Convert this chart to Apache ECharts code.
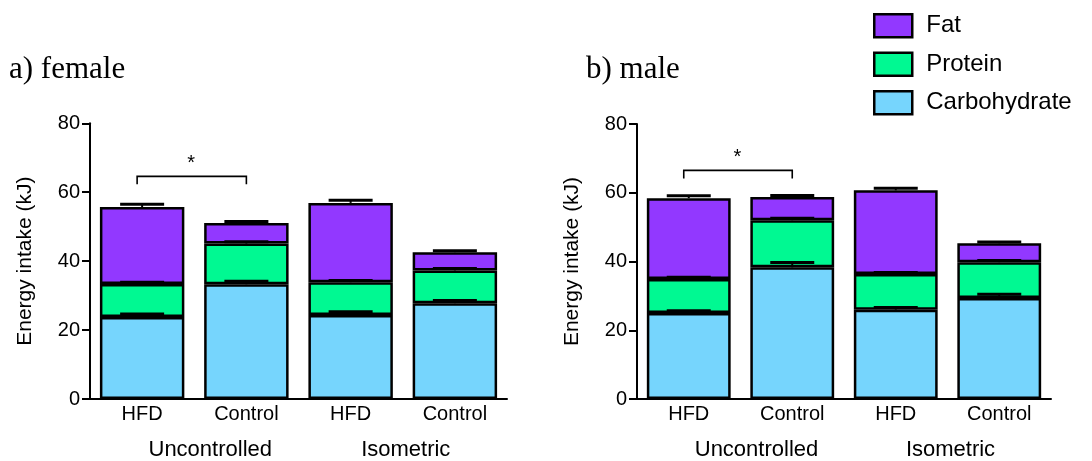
<!DOCTYPE html>
<html>
<head>
<meta charset="utf-8">
<script src="https://cdn.jsdelivr.net/npm/echarts@6/dist/echarts.min.js"></script>
<style>html,body{margin:0;padding:0;background:#fff}#c{width:1092px;height:461px}</style>
</head>
<body>
<div id="c"></div>
<script>
// ---- data ----
const categories = ['HFD', 'Control', 'HFD', 'Control'];
const groups = ['Uncontrolled', 'Isometric'];
const seriesNames = ['Carbohydrate', 'Protein', 'Fat'];
const yTicks = [0, 20, 40, 60, 80];

const femaleCarb = [23.8, 33.3, 24.4, 27.8];
const femaleProtein = [9.6, 11.8, 9.5, 9.5];
const femaleFat = [22.3, 6.0, 23.0, 5.3];
const femaleCarbErr = [0.9, 0.9, 0.9, 0.8];
const femaleProteinErr = [0.5, 0.5, 0.5, 0.6];
const femaleFatErr = [0.8, 0.4, 0.8, 0.4];

const maleCarb = [25.0, 38.3, 26.0, 29.4];
const maleProtein = [9.9, 13.7, 10.4, 10.4];
const maleFat = [23.5, 6.8, 24.3, 5.5];
const maleCarbErr = [0.7, 1.4, 0.6, 1.1];
const maleProteinErr = [0.5, 0.6, 0.4, 0.5];
const maleFatErr = [0.7, 0.4, 0.6, 0.4];

// significance brackets: [fromCategory, toCategory, yValue]
const femaleBracket = [0, 1, 64.6];
const maleBracket = [0, 1, 66.5];

const colors = {Carbohydrate: '#76D5FD', Protein: '#00F992', Fat: '#9238FF'};
const FONT = 'Liberation Sans, Arial, sans-serif';

const chart = echarts.init(document.getElementById('c'));

function errRender(params, api) {
  const x = api.value(0), top = api.value(1), e = api.value(2);
  const p0 = api.coord([x, top]);
  const p1 = api.coord([x, top + e]);
  return {type: 'group', children: [
    {type: 'line', shape: {x1: p0[0], y1: p0[1], x2: p1[0], y2: p1[1]}, style: {stroke: '#000', lineWidth: 2}},
    {type: 'line', shape: {x1: p1[0] - 22, y1: p1[1], x2: p1[0] + 22, y2: p1[1]}, style: {stroke: '#000', lineWidth: 3}}
  ]};
}
function bracketRender(params, api) {
  const a = api.coord([api.value(0), api.value(2)]);
  const b = api.coord([api.value(1), api.value(2)]);
  const drop = 8;
  return {type: 'group', children: [
    {type: 'polyline', shape: {points: [[a[0] - 5, a[1] + drop], [a[0] - 5, a[1]], [b[0], b[1]], [b[0], b[1] + drop]]},
      style: {stroke: '#000', lineWidth: 1.6, fill: null}},
    {type: 'text', x: (a[0] + b[0]) / 2 - 3, y: a[1] - 13,
      style: {text: '*', fontSize: 20, fontFamily: FONT, fill: '#000', align: 'center', verticalAlign: 'middle'}}
  ]};
}

function buildPanel(carb, protein, fat, cErr, pErr, fErr, bracket, xIdx, yIdx) {
  const vals = [carb, protein, fat];
  const errs = [cErr, pErr, fErr];
  const out = [];
  vals.forEach((v, k) => {
    out.push({
      name: seriesNames[k], type: 'bar', stack: 's' + yIdx, data: v,
      xAxisIndex: xIdx, yAxisIndex: yIdx, barCategoryGap: '19%',
      itemStyle: {color: colors[seriesNames[k]], borderColor: '#000', borderWidth: 2.5},
      silent: true, animation: false
    });
  });
  vals.forEach((v, k) => {
    const data = v.map((_, i) => {
      let cum = 0;
      for (let j = 0; j <= k; j++) cum += vals[j][i];
      return [i, cum, errs[k][i]];
    });
    out.push({
      type: 'custom', xAxisIndex: xIdx, yAxisIndex: yIdx, renderItem: errRender,
      data: data, encode: {x: 0, y: 1}, z: 5, silent: true, animation: false
    });
  });
  out.push({
    type: 'custom', xAxisIndex: xIdx, yAxisIndex: yIdx, renderItem: bracketRender,
    data: [bracket], encode: {x: [0, 1], y: 2}, z: 5, silent: true, animation: false
  });
  return out;
}

const groupData = groups.map((g, i) => ({value: g, textStyle: {padding: i === 0 ? [0, 0, 0, 32] : [0, 0, 0, 6]}}));

function xAxes(gridIndex) {
  return [
    {type: 'category', gridIndex: gridIndex, data: categories, position: 'bottom',
      axisLine: {lineStyle: {color: '#000', width: 2}}, axisTick: {show: false},
      axisLabel: {color: '#000', fontSize: 20, fontFamily: FONT, margin: 5}},
    {type: 'category', gridIndex: gridIndex, data: groupData, position: 'bottom', offset: 0,
      axisLine: {show: false}, axisTick: {show: false},
      axisLabel: {color: '#000', fontSize: 22, fontFamily: FONT, margin: 40}}
  ];
}
function yAxis(gridIndex) {
  return {type: 'value', gridIndex: gridIndex, min: yTicks[0], max: yTicks[yTicks.length - 1], interval: 20,
    name: 'Energy intake (kJ)', nameLocation: 'middle', nameGap: 54,
    nameTextStyle: {color: '#000', fontSize: 21, fontFamily: FONT},
    axisLine: {show: true, lineStyle: {color: '#000', width: 2}},
    axisTick: {show: true, length: 8, lineStyle: {color: '#000', width: 2}},
    axisLabel: {color: '#000', fontSize: 20, fontFamily: FONT, margin: 10},
    splitLine: {show: false}};
}

const option = {
  animation: false,
  title: [
    {text: 'a) female', left: 4, top: 49, textStyle: {fontFamily: 'Liberation Serif, Times New Roman, serif', fontWeight: 'normal', fontSize: 31, color: '#000'}},
    {text: 'b) male', left: 581, top: 49, textStyle: {fontFamily: 'Liberation Serif, Times New Roman, serif', fontWeight: 'normal', fontSize: 31, color: '#000'}}
  ],
  legend: {
    data: ['Fat', 'Protein', 'Carbohydrate'], orient: 'vertical', left: 868, top: 8,
    itemWidth: 38, itemHeight: 23, itemGap: 13, icon: 'rect',
    itemStyle: {borderColor: '#000', borderWidth: 2.5},
    textStyle: {color: '#000', fontSize: 24, fontFamily: FONT, padding: [0, 0, 0, 9]},
    selectedMode: false
  },
  grid: [
    {left: 90, top: 123.3, width: 417, height: 276.7},
    {left: 637, top: 124, width: 414, height: 276.7}
  ],
  xAxis: xAxes(0).concat(xAxes(1)),
  yAxis: [yAxis(0), yAxis(1)],
  series: buildPanel(femaleCarb, femaleProtein, femaleFat, femaleCarbErr, femaleProteinErr, femaleFatErr, femaleBracket, 0, 0)
    .concat(buildPanel(maleCarb, maleProtein, maleFat, maleCarbErr, maleProteinErr, maleFatErr, maleBracket, 2, 1))
};
chart.setOption(option);
</script>
</body>
</html>
